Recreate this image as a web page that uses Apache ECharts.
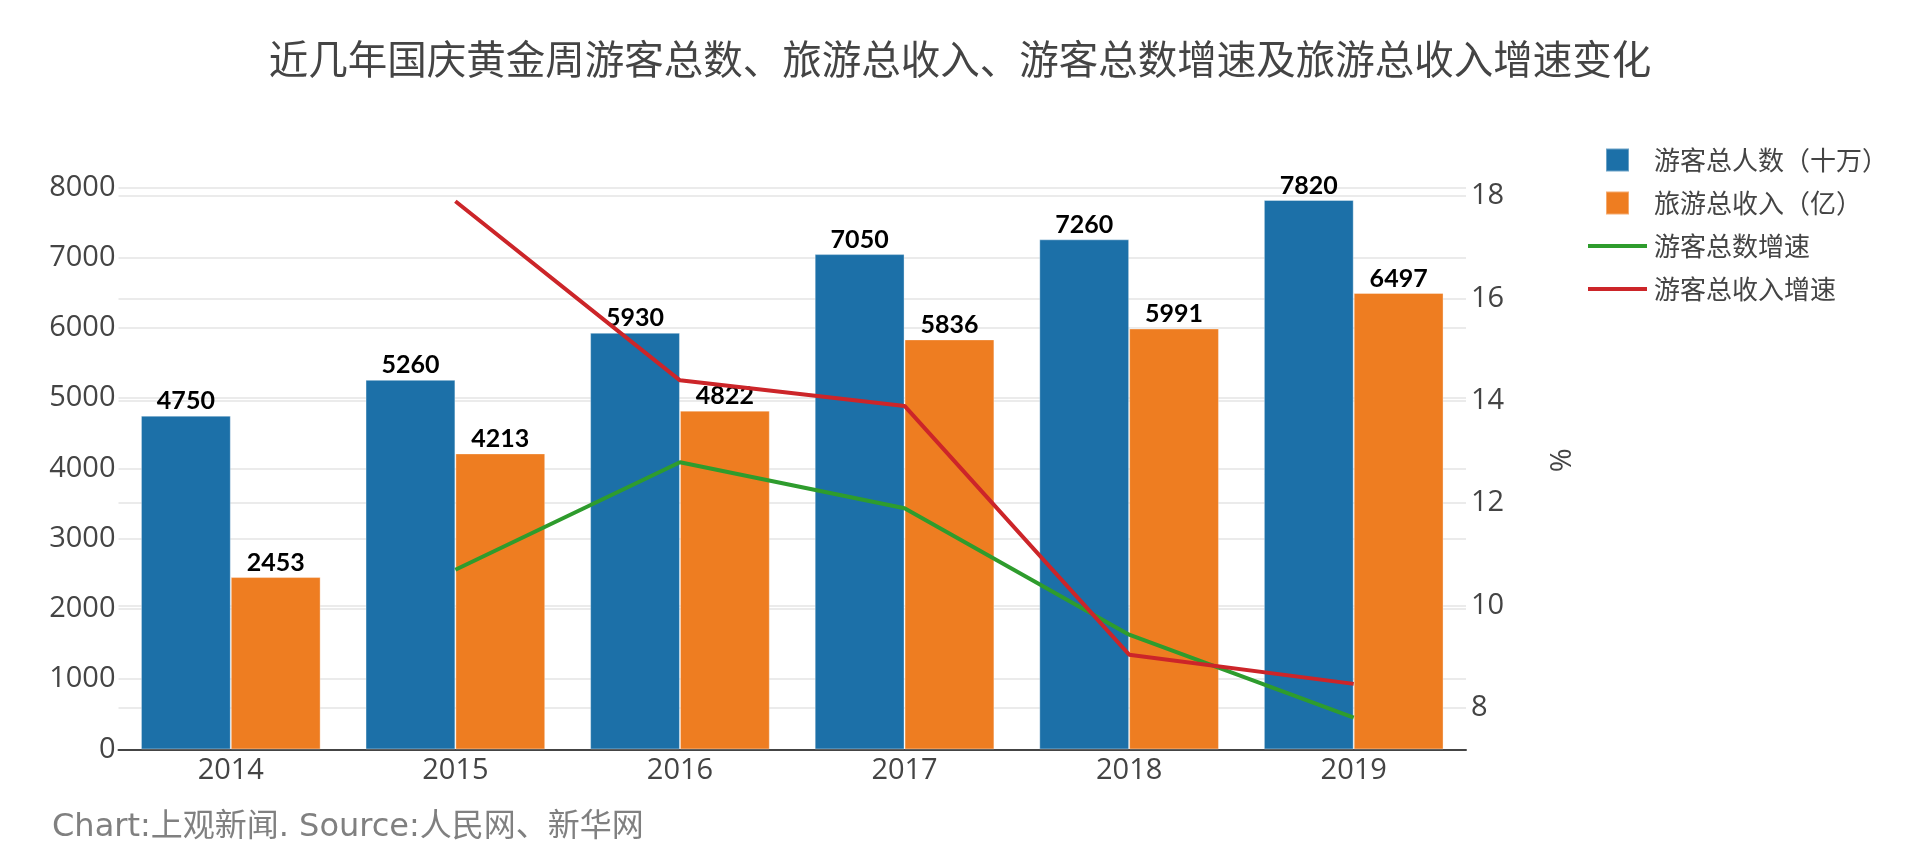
<!DOCTYPE html>
<html>
<head>
<meta charset="utf-8">
<script src="https://cdn.jsdelivr.net/npm/echarts@6/dist/echarts.min.js"></script>
<style>
html,body{margin:0;padding:0;background:#fff;}
#main{width:1920px;height:868px;}
</style>
</head>
<body>
<div id="main"></div>
<script>
const years = ['2014', '2015', '2016', '2017', '2018', '2019'];
const visitors = [4750, 5260, 5930, 7050, 7260, 7820];
const revenue = [2453, 4213, 4822, 5836, 5991, 6497];
const visitorGrowth = [null, 10.7, 12.8, 11.9, 9.43, 7.81];
const revenueGrowth = [null, 17.9, 14.4, 13.9, 9.04, 8.47];
const seriesNames = ['游客总人数（十万）', '旅游总收入（亿）', '游客总数增速', '游客总收入增速'];
const titleText = '近几年国庆黄金周游客总数、旅游总收入、游客总数增速及旅游总收入增速变化';
const footerText = 'Chart:上观新闻. Source:人民网、新华网';

const colors = ['#1c70a8', '#ee7d21', '#2e9c2d', '#cc2529'];
const tickFont = {fontFamily: '"Open Sans", "Noto Sans CJK SC", sans-serif', fontSize: 29, color: '#444'};
const gridColor = '#ebebeb';

const chart = echarts.init(document.getElementById('main'), null, {renderer: 'canvas'});
const barLabel = {
  show: true, position: 'top', distance: 2,
  color: '#000', fontWeight: 'bold', fontSize: 25,
  fontFamily: 'Lato, "DejaVu Sans", sans-serif'
};
chart.setOption({
  animation: false,
  backgroundColor: '#fff',
  title: [{
    text: titleText, left: 'center', top: 34,
    textStyle: {fontFamily: '"Noto Sans CJK SC", sans-serif', fontSize: 39.5, fontWeight: 'normal', color: '#444'}
  }, {
    text: footerText, left: 47, top: 807,
    textStyle: {fontFamily: '"DejaVu Sans", "Noto Sans CJK SC", sans-serif', fontSize: 32, fontWeight: 'normal', color: '#808080'}
  }],
  legend: {
    orient: 'vertical', left: 1583, top: 142,
    itemWidth: 59, itemHeight: 23, itemGap: 17,
    symbolKeepAspect: true,
    textStyle: {fontFamily: '"Noto Sans CJK SC", sans-serif', fontSize: 26, color: '#444', padding: [0, 0, 0, 2]},
    data: [
      {name: seriesNames[0], icon: 'path://M0,0H10V10H0Z'},
      {name: seriesNames[1], icon: 'path://M0,0H10V10H0Z'},
      {name: seriesNames[2], icon: 'path://M0,0H60V4H0Z'},
      {name: seriesNames[3], icon: 'path://M0,0H60V4H0Z'}
    ]
  },
  grid: {left: 118.5, right: 454, top: 171, bottom: 118.6, containLabel: false},
  xAxis: {
    type: 'category', data: years,
    axisLine: {show: true, lineStyle: {color: '#444', width: 2}},
    axisTick: {show: false},
    axisLabel: Object.assign({margin: 7}, tickFont),
    splitLine: {show: false}
  },
  yAxis: [{
    type: 'value', min: 0, max: 8233, interval: 1000, position: 'left',
    axisLine: {show: false}, axisTick: {show: false},
    axisLabel: Object.assign({margin: 3, showMaxLabel: false, formatter: function (v) { return String(v); }}, tickFont),
    splitLine: {show: true, showMaxLine: false, lineStyle: {color: gridColor, width: 2}}
  }, {
    type: 'value', min: 7.19, max: 18.49, splitNumber: 5, position: 'right',
    name: '%', nameLocation: 'middle', nameRotate: 90, nameGap: 82,
    nameTextStyle: tickFont,
    axisLine: {show: false}, axisTick: {show: false},
    axisLabel: Object.assign({margin: 5, showMaxLabel: false, showMinLabel: false}, tickFont),
    splitLine: {show: true, showMaxLine: false, showMinLine: false, lineStyle: {color: gridColor, width: 2}}
  }],
  series: [{
    name: seriesNames[0], type: 'bar', data: visitors, yAxisIndex: 0,
    barCategoryGap: '20%', barGap: '0%',
    itemStyle: {color: colors[0], borderColor: 'rgba(255,255,255,0.35)', borderWidth: 1},
    label: barLabel, z: 2
  }, {
    name: seriesNames[1], type: 'bar', data: revenue, yAxisIndex: 0,
    barCategoryGap: '20%', barGap: '0%',
    itemStyle: {color: colors[1], borderColor: 'rgba(255,255,255,0.35)', borderWidth: 1},
    label: barLabel, z: 2
  }, {
    name: seriesNames[2], type: 'line', data: visitorGrowth, yAxisIndex: 1,
    showSymbol: false, symbol: 'none',
    lineStyle: {color: colors[2], width: 4}, itemStyle: {color: colors[2]}, z: 3
  }, {
    name: seriesNames[3], type: 'line', data: revenueGrowth, yAxisIndex: 1,
    showSymbol: false, symbol: 'none',
    lineStyle: {color: colors[3], width: 4}, itemStyle: {color: colors[3]}, z: 3
  }]
});
</script>
</body>
</html>
